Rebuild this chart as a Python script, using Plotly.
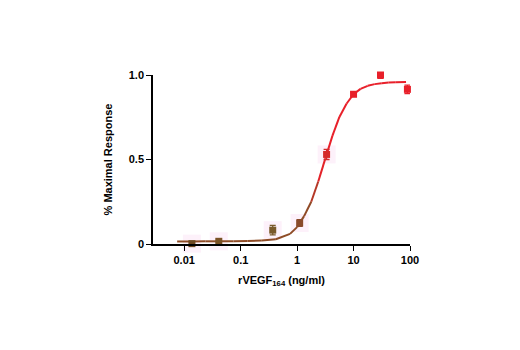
import plotly.graph_objects as go
import numpy as np

# Data points (concentration ng/ml, % maximal response, error)
conc = [0.0137, 0.041, 0.37, 1.11, 3.33, 10, 30, 90]
resp = [0.002, 0.016, 0.082, 0.124, 0.53, 0.886, 1.0, 0.915]
err = [0.006, 0.006, 0.028, 0.02, 0.03, 0.01, 0.02, 0.025]
pt_colors = ["#6e4a22", "#7a5226", "#7a5a2a", "#8a4a2a", "#d42a2a", "#e8202a", "#e8202a", "#e8202a"]

# Fitted curve
curve_x = [0.0075, 0.0133, 0.0237, 0.042, 0.075, 0.133, 0.237, 0.42, 0.75, 1.0, 1.33, 1.78,
           2.37, 3.16, 4.22, 5.62, 7.5, 10, 13.3, 17.8, 23.7, 31.6, 42, 56, 85]
curve_y = [0.015, 0.015, 0.016, 0.016, 0.017, 0.018, 0.021, 0.028, 0.06, 0.10, 0.165, 0.25,
           0.37, 0.505, 0.64, 0.752, 0.83, 0.886, 0.918, 0.936, 0.946, 0.951, 0.955, 0.957, 0.958]

x_ticks = [0.01, 0.1, 1, 10, 100]
x_tick_labels = ["0.01", "0.1", "1", "10", "100"]
y_ticks = [0, 0.5, 1.0]
y_tick_labels = ["0", "0.5", "1.0"]

brown = np.array([0x8e, 0x4c, 0x26])
red = np.array([0xe8, 0x20, 0x2a])

fig = go.Figure()

# faint pink haze behind lower points
fig.add_trace(go.Scatter(
    x=conc[:5], y=resp[:5], mode="markers",
    marker=dict(symbol="square", size=18, color="rgba(245,180,225,0.18)"),
    hoverinfo="skip", showlegend=False, cliponaxis=False))

# curve as colored segments (brown -> red)
n = len(curve_x)
for i in range(n - 1):
    ym = (curve_y[i] + curve_y[i + 1]) / 2
    t = min(max((ym - 0.2) / 0.25, 0), 1)
    c = brown * (1 - t) + red * t
    fig.add_trace(go.Scatter(
        x=curve_x[i:i + 2], y=curve_y[i:i + 2], mode="lines",
        line=dict(color="rgb(%d,%d,%d)" % tuple(c.astype(int)), width=2),
        hoverinfo="skip", showlegend=False, cliponaxis=False))

for xi, yi, ei, ci in zip(conc, resp, err, pt_colors):
    fig.add_trace(go.Scatter(
        x=[xi], y=[yi], mode="markers",
        marker=dict(symbol="square", size=7, color=ci),
        error_y=dict(type="constant", value=ei, color=ci, thickness=1.3, width=3),
        showlegend=False, cliponaxis=False))

font_family = "Liberation Sans, Arial, sans-serif"
fig.update_layout(
    width=520, height=350,
    margin=dict(l=153, r=110, t=75, b=106),
    paper_bgcolor="white", plot_bgcolor="white",
    font=dict(family=font_family, color="black", size=11),
    xaxis=dict(
        type="log", range=[np.log10(0.0028), 2.0],
        tickvals=x_ticks, ticktext=["<b>%s</b>" % t for t in x_tick_labels],
        ticks="outside", ticklen=5, tickwidth=1.2, tickcolor="black",
        showline=True, linecolor="black", linewidth=1.5,
        showgrid=False, zeroline=False,
        title=dict(text="<b>rVEGF<sub>164</sub> (ng/ml)</b>", font=dict(size=11), standoff=11),
    ),
    yaxis=dict(
        range=[0, 1.0],
        tickvals=y_ticks, ticktext=["<b>%s</b>" % t for t in y_tick_labels],
        ticks="outside", ticklen=5, tickwidth=1.2, tickcolor="black",
        showline=True, linecolor="black", linewidth=1.5,
        showgrid=False, zeroline=False,
        title=dict(text="<b>% Maximal Response</b>", font=dict(size=11), standoff=14),
    ),
)

fig.write_html("out.html")
